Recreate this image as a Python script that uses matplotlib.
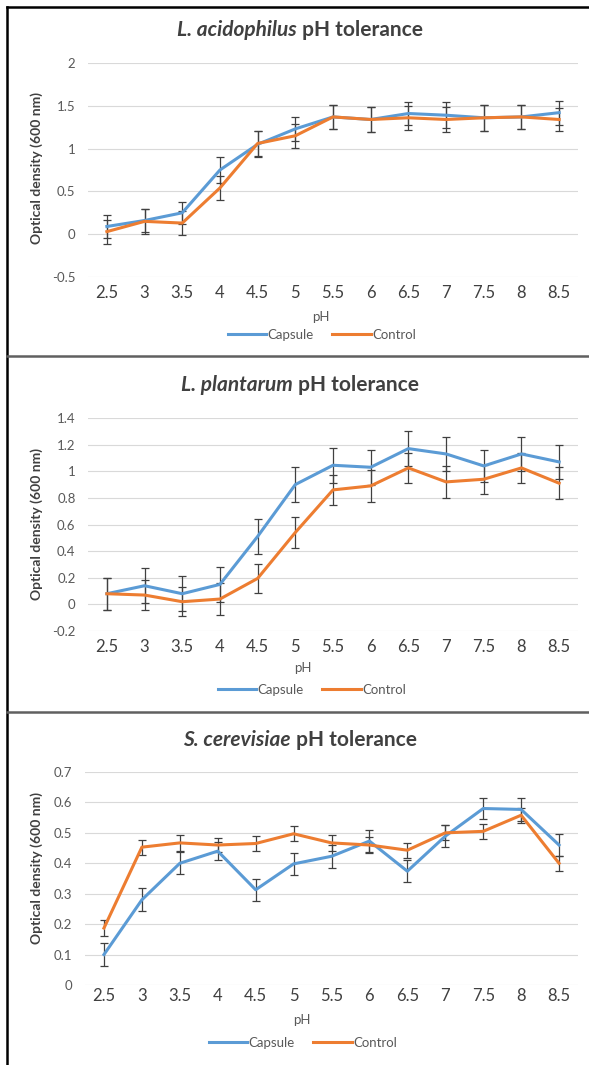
import numpy as np
import matplotlib
matplotlib.use("Agg")
import matplotlib.pyplot as plt
from matplotlib.lines import Line2D

plt.rcParams['font.family'] = ['Lato', 'DejaVu Sans']

# pH categories shared by all three panels
ph_labels = ["2.5", "3", "3.5", "4", "4.5", "5", "5.5", "6", "6.5", "7", "7.5", "8", "8.5"]

# L. acidophilus
acid_capsule = [0.09, 0.16, 0.25, 0.75, 1.05, 1.23, 1.37, 1.34, 1.41, 1.39, 1.36, 1.37, 1.42]
acid_capsule_err = [0.13, 0.14, 0.13, 0.15, 0.15, 0.14, 0.14, 0.15, 0.14, 0.15, 0.15, 0.14, 0.14]
acid_control = [0.03, 0.15, 0.13, 0.54, 1.06, 1.15, 1.37, 1.34, 1.36, 1.34, 1.36, 1.37, 1.34]
acid_control_err = [0.14, 0.15, 0.14, 0.14, 0.15, 0.14, 0.14, 0.15, 0.14, 0.15, 0.15, 0.14, 0.14]

# L. plantarum
plant_capsule = [0.08, 0.14, 0.08, 0.15, 0.51, 0.90, 1.045, 1.03, 1.17, 1.13, 1.04, 1.13, 1.07]
plant_capsule_err = [0.12, 0.13, 0.13, 0.13, 0.13, 0.13, 0.13, 0.13, 0.13, 0.13, 0.12, 0.13, 0.13]
plant_control = [0.08, 0.07, 0.02, 0.04, 0.195, 0.54, 0.86, 0.89, 1.025, 0.92, 0.94, 1.025, 0.91]
plant_control_err = [0.12, 0.11, 0.11, 0.12, 0.11, 0.12, 0.11, 0.12, 0.11, 0.12, 0.11, 0.11, 0.12]

# S. cerevisiae
cere_capsule = [0.10, 0.28, 0.40, 0.44, 0.313, 0.398, 0.423, 0.473, 0.374, 0.489, 0.58, 0.577, 0.46]
cere_capsule_err = [0.037, 0.038, 0.036, 0.03, 0.036, 0.035, 0.037, 0.037, 0.037, 0.037, 0.035, 0.037, 0.035]
cere_control = [0.187, 0.453, 0.467, 0.46, 0.465, 0.497, 0.467, 0.46, 0.443, 0.50, 0.505, 0.558, 0.40]
cere_control_err = [0.026, 0.025, 0.025, 0.022, 0.025, 0.025, 0.025, 0.025, 0.025, 0.025, 0.025, 0.025, 0.025]

W, H = 589, 1065
fig = plt.figure(figsize=(W / 100, H / 100), dpi=100)

BLUE = "#5B9BD5"
ORANGE = "#ED7D31"

panels = [
    # species, capsule, cap err, control, ctl err, ylim, yticks, axes box (px),
    # title y, pH y, legend y, x tick pad, y label y, legend x, pH x
    ("L. acidophilus", acid_capsule, acid_capsule_err, acid_control, acid_control_err,
     (-0.5, 2.0), [-0.5, 0, 0.5, 1, 1.5, 2], (88, 63, 578, 277), 30, 317, 335, 5.5, 168, 322, 321),
    ("L. plantarum", plant_capsule, plant_capsule_err, plant_control, plant_control_err,
     (-0.2, 1.4), [-0.2, 0, 0.2, 0.4, 0.6, 0.8, 1, 1.2, 1.4], (88, 418, 578, 631), 385, 668, 690, 5.5, 524, 312, 303),
    ("S. cerevisiae", cere_capsule, cere_capsule_err, cere_control, cere_control_err,
     (0, 0.7), [0, 0.1, 0.2, 0.3, 0.4, 0.5, 0.6, 0.7], (85, 772, 578, 985), 740, 1020, 1043, 2.5, 868, 303, 302),
]


def fmt(v):
    s = ("%.1f" % v)
    if s.endswith(".0"):
        s = s[:-2]
    if s == "-0":
        s = "0"
    return s


x = np.arange(len(ph_labels))
for (name, cap, cap_err, ctl, ctl_err, ylim, yticks, box, ty, phy, legy, xpad, ylaby, legx, phx) in panels:
    l, t, r, b = box
    ax = fig.add_axes([l / W, 1 - b / H, (r - l) / W, (b - t) / H])
    ax.set_xlim(-0.5, len(ph_labels) - 0.5)
    ax.set_ylim(*ylim)
    ax.set_yticks(yticks)
    ax.set_yticklabels([fmt(v) for v in yticks])
    ax.set_xticks(x)
    ax.set_xticklabels(ph_labels)
    ax.grid(axis="y", color="#D9D9D9", linewidth=0.8)
    ax.set_axisbelow(True)
    for s in ax.spines.values():
        s.set_visible(False)
    ax.tick_params(axis="y", length=0, pad=9, labelsize=9.5, labelcolor="#595959")
    ax.tick_params(axis="x", length=0, pad=xpad, labelsize=12, labelcolor="#404040")

    ax.errorbar(x, cap, yerr=cap_err, color=BLUE, linewidth=2.2, ecolor="#404040",
                elinewidth=0.9, capsize=3, capthick=0.9, label="Capsule", zorder=3)
    ax.errorbar(x, ctl, yerr=ctl_err, color=ORANGE, linewidth=2.2, ecolor="#404040",
                elinewidth=0.9, capsize=3, capthick=0.9, label="Control", zorder=3)

    fig.text(37 / W, 1 - ylaby / H, "Optical density (600 nm)", rotation=90,
             ha="center", va="center", fontsize=10, fontweight="bold", color="#404040")
    fig.text(phx / W, 1 - phy / H, "pH", ha="center", va="center",
             fontsize=9.5, color="#595959")

    handles = [Line2D([], [], color=BLUE, lw=2.2), Line2D([], [], color=ORANGE, lw=2.2)]
    fig.legend(handles, ["Capsule", "Control"], loc="center", ncol=2,
               bbox_to_anchor=(legx / W, 1 - legy / H), frameon=False, fontsize=9.5,
               handlelength=2.9, handletextpad=0.1, columnspacing=1.4, labelcolor="#595959")

    # title: italic species name followed by regular text, both bold
    t1 = fig.text(0, 1 - ty / H, name, fontsize=15, fontweight="bold", style="italic",
                  color="#404040", ha="left", va="center")
    t2 = fig.text(0, 1 - ty / H, " pH tolerance", fontsize=15, fontweight="bold",
                  color="#404040", ha="left", va="center")
    fig.canvas.draw()
    r_ = fig.canvas.get_renderer()
    w1 = t1.get_window_extent(r_).width
    w2 = t2.get_window_extent(r_).width
    x0 = 300 - (w1 + w2) / 2
    t1.set_x(x0 / W)
    t2.set_x((x0 + w1) / W)

# panel frames
fig.add_artist(Line2D([7 / W, 7 / W], [0, 1 - 7 / H], color="black", lw=1.8))
fig.add_artist(Line2D([7 / W, 1], [1 - 7 / H, 1 - 7 / H], color="black", lw=1.8))
fig.add_artist(Line2D([7 / W, 1], [1 - 356 / H, 1 - 356 / H], color="#606060", lw=1.8))
fig.add_artist(Line2D([7 / W, 1], [1 - 712 / H, 1 - 712 / H], color="#606060", lw=1.8))

fig.savefig("out.png", dpi=100)
